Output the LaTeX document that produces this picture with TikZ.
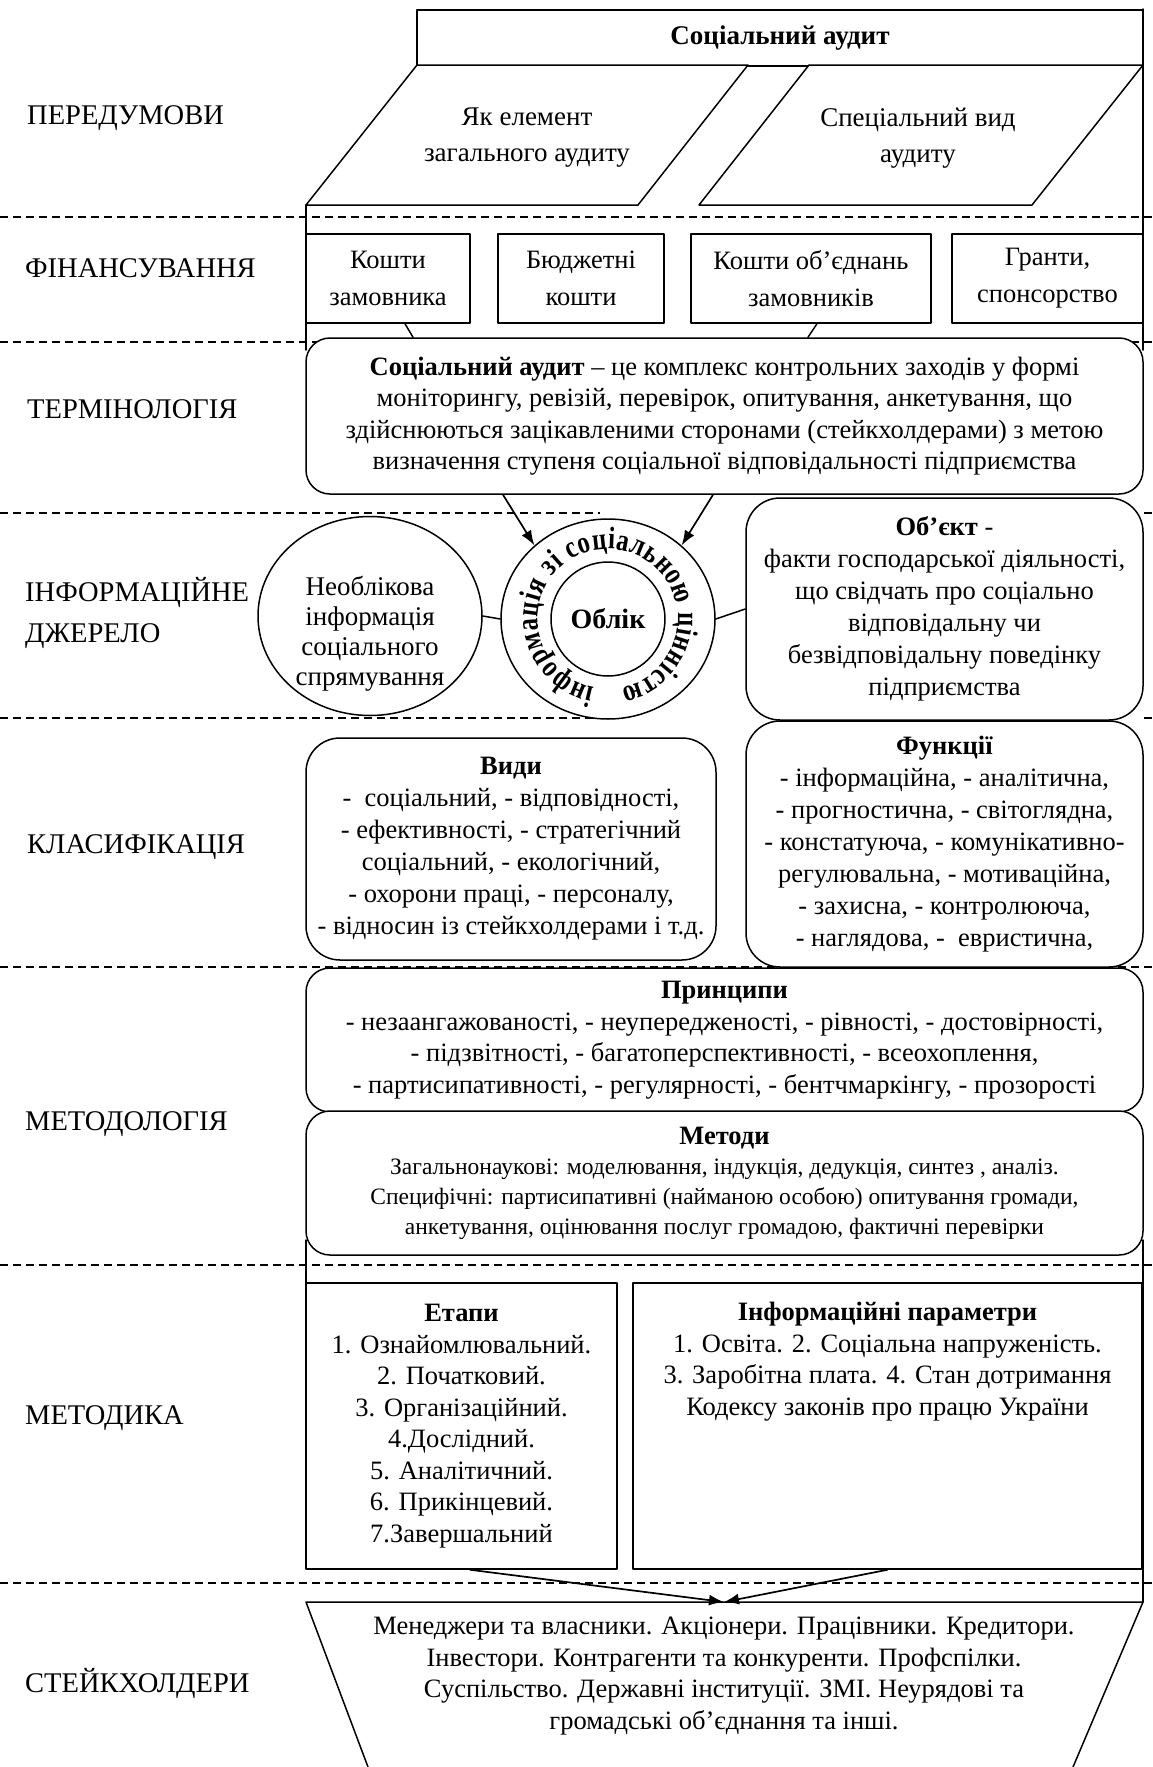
\documentclass[tikz,border=0pt]{standalone}
\usepackage{fontspec}
\setmainfont{Liberation Serif}
\newfontfamily\ringfont{Liberation Serif}[FakeStretch=0.8]
\usetikzlibrary{arrows.meta,calc,positioning,shapes.geometric,decorations.text}

\begin{document}
\begin{tikzpicture}[x=1pt,y=-1pt,>=Latex,line cap=round,line join=round,every node/.style={font=\fontsize{26.5}{31.5}\selectfont}]
\useasboundingbox[fill=white] (0,0) rectangle (1153,1767);
\tikzset{frame/.style={draw=black,line width=1.5pt},sepline/.style={draw=black,line width=1.6pt,dash pattern=on 8pt off 5pt,line cap=butt},box/.style={draw=black,fill=white,line width=1.5pt,inner sep=0pt,align=center},rbox/.style={box,rounded corners=24pt},obox/.style={box,rounded corners=34pt},side/.style={anchor=west,inner sep=0pt,font=\fontsize{28.5}{41}\selectfont},arr/.style={draw=black,line width=1.7pt,-{Latex[length=15pt,width=11pt]}}}
\foreach \y in {217,342,967,1265,1583} \draw[sepline] (0,\y) -- (1153,\y);
\foreach \y in {513,718} {\draw[sepline] (0,\y) -- (600,\y); \draw[sepline] (1144,\y) -- (1153,\y);}
\draw[frame] (306,205) -- (306,350); \draw[frame] (306,1240) -- (306,1283);
\draw[frame] (1143,9) -- (1143,350); \draw[frame] (1143,1240) -- (1143,1602);
\node[side] (lbPre) at (27,118) {ПЕРЕДУМОВИ};
\node[side] (lbFin) at (25,268) {ФІНАНСУВАННЯ};
\node[side] (lbTerm) at (27,409) {ТЕРМІНОЛОГІЯ};
\node[side,align=left] (lbSrc) at (25,613) {ІНФОРМАЦІЙНЕ\\ДЖЕРЕЛО};
\node[side] (lbCls) at (27,847) {КЛАСИФІКАЦІЯ};
\node[side] (lbMeth) at (25,1124) {МЕТОДОЛОГІЯ};
\node[side] (lbTech) at (25,1418) {МЕТОДИКА};
\node[side] (lbStake) at (25,1683) {СТЕЙКХОЛДЕРИ};
\node[box,minimum width=726pt,minimum height=56pt,font=\bfseries\fontsize{27}{31.5}\selectfont] (head) at (780,38) {Соціальний аудит};
\draw[frame,fill=white] (417,65) -- (748,65) -- (638,205) -- (306,205) -- cycle;
\draw[frame,fill=white] (809,65) -- (1143,65) -- (1032,205) -- (699,205) -- cycle;
\node[align=center,font=\fontsize{27}{36}\selectfont] (preGen) at (527,138) {Як елемент\\загального аудиту};
\node[align=center,font=\fontsize{27}{36}\selectfont] (preSpec) at (918,138) {Спеціальний вид\\аудиту};
\node[box,minimum width=164pt,minimum height=89pt,font=\fontsize{26.5}{37}\selectfont] (fin1) at (388,278.5) {Кошти\\замовника};
\node[box,minimum width=166pt,minimum height=89pt,font=\fontsize{26.5}{37}\selectfont] (fin2) at (581,278.5) {Бюджетні\\кошти};
\node[box,minimum width=240pt,minimum height=89pt,font=\fontsize{26.5}{37}\selectfont] (fin3) at (811,278.5) {Кошти об’єднань\\замовників};
\node[box,minimum width=191pt,minimum height=89pt,font=\fontsize{26.5}{37}\selectfont] (fin4) at (1047.5,278.5) {Гранти,\\спонсорство};
\node[rbox,minimum width=837pt,minimum height=156pt] (defn) at (724.5,416) {\textbf{Соціальний аудит} – це комплекс контрольних заходів у формі\\моніторингу, ревізій, перевірок, опитування, анкетування, що\\здійснюються зацікавленими сторонами (стейкхолдерами) з метою\\визначення ступеня соціальної відповідальності підприємства};
\draw[frame] ($(fin1.south)+(17,0)$) -- ($(defn.north)+(-311.5,0)$);
\draw[frame] ($(fin3.south)+(6,0)$) -- ($(defn.north)+(83.5,0)$);
\node[ellipse,draw,fill=white,line width=1.5pt,minimum width=224pt,minimum height=199pt,inner sep=0pt] (nonacc) at (370,616) {};
\node[align=center,inner sep=0pt,font=\fontsize{27}{30}\selectfont] (nonaccTxt) at (370,634) {Необлікова\\інформація\\соціального\\спрямування};
\node[ellipse,draw,fill=white,line width=1.5pt,minimum width=214pt,minimum height=200pt,inner sep=0pt] (ring) at (608,619) {};
\node[circle,draw,line width=1.5pt,minimum size=114pt,inner sep=0pt,font=\bfseries\fontsize{28}{30}\selectfont] (acc) at (608,619) {Облік};
\path[decorate,decoration={text along path,text align=fit to path,text={|\ringfont\bfseries\fontsize{31}{31}\selectfont|інформація зі соціальною цінністю}}] ($(ring.center)+(-259:70)$) arc[start angle=-259,end angle=79,radius=70];
\node[obox,minimum width=397pt,minimum height=222pt,font=\fontsize{26.5}{32}\selectfont] (obj) at (944.5,609) {\textbf{Об’єкт} -\\факти господарської діяльності,\\що свідчать про соціально\\відповідальну чи\\безвідповідальну поведінку\\підприємства};
\draw[frame] (nonacc.east) -- (ring.west);
\draw[frame] (ring.east) -- (obj.west);
\draw[arr] ($(defn.south)+(-221.5,0)$) -- (ring.135);
\draw[arr] ($(defn.south)+(-11.5,0)$) -- (ring.45);
\node[obox,minimum width=410pt,minimum height=222pt,font=\fontsize{26.5}{32}\selectfont] (kinds) at (511,849) {\textbf{Види}\\-\ \ соціальний, - відповідності,\\- ефективності, - стратегічний\\соціальний, - екологічний,\\- охорони праці, - персоналу,\\- відносин із стейкхолдерами і т.д.};
\node[obox,minimum width=397pt,minimum height=246pt,font=\fontsize{26.5}{32}\selectfont] (funcs) at (944.5,844) {\textbf{Функції}\\- інформаційна, - аналітична,\\- прогностична, - світоглядна,\\- констатуюча, - комунікативно-\\регулювальна, - мотиваційна,\\- захисна, - контролююча,\\- наглядова, -\ \ евристична,};
\node[rbox,minimum width=837pt,minimum height=144pt] (princ) at (724.5,1040) {\textbf{Принципи}\\- незаангажованості, - неупередженості, - рівності, - достовірності,\\- підзвітності, - багатоперспективності, - всеохоплення,\\- партисипативності, - регулярності, - бентчмаркінгу, - прозорості};
\node[rbox,minimum width=837pt,minimum height=144pt,font=\fontsize{23.5}{30}\selectfont] (meth) at (724.5,1183) {{\bfseries\fontsize{26.5}{30}\selectfont Методи}\\Загальнонаукові: моделювання, індукція, дедукція, синтез , аналіз.\\Специфічні: партисипативні (найманою особою) опитування громади,\\анкетування, оцінювання послуг громадою, фактичні перевірки};
\node[box,minimum width=311pt,minimum height=286pt] (stages) at (461.5,1426) {\textbf{Етапи}\\1. Ознайомлювальний.\\2. Початковий.\\3. Організаційний.\\4.Дослідний.\\5. Аналітичний.\\6. Прикінцевий.\\7.Завершальний};
\node[box,minimum width=509pt,minimum height=286pt] (params) at (887.5,1426) {};
\node[anchor=north,align=center,inner sep=0pt] (paramsTxt) at ($(params.north)+(0,20)$) {\textbf{Інформаційні параметри}\\1. Освіта. 2. Соціальна напруженість.\\3. Заробітна плата. 4. Стан дотримання\\Кодексу законів про працю України};
\draw[frame,fill=white] (368,1767) -- (306,1602) -- (1143,1602) -- (1073,1767);
\coordinate (stakeTop) at (724,1602);
\node[align=center] (stake) at (724,1676) {Менеджери та власники. Акціонери. Працівники. Кредитори.\\Інвестори. Контрагенти та конкуренти. Профспілки.\\Суспільство. Державні інституції. ЗМІ. Неурядові та\\громадські об’єднання та інші.};
\draw[arr] ($(stages.south)+(8.5,0)$) -- (stakeTop);
\draw[arr] (params.south) -- (stakeTop);
\end{tikzpicture}
\end{document}
